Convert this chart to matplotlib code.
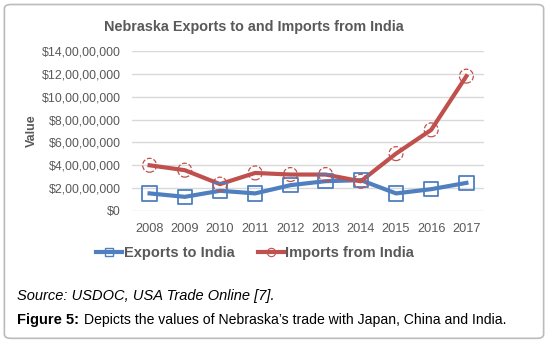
import matplotlib.pyplot as plt
from matplotlib.lines import Line2D
from matplotlib.patches import FancyBboxPatch
from matplotlib.ticker import FuncFormatter

plt.rcParams['font.family'] = ['Liberation Sans', 'DejaVu Sans']

years = ['2008', '2009', '2010', '2011', '2012', '2013', '2014', '2015', '2016', '2017']
# values in millions of dollars
exports = [15.4, 12.4, 17.7, 15.4, 22.6, 26.1, 27.0, 15.4, 19.1, 24.6]
imports = [40.0, 35.7, 23.5, 33.3, 31.9, 31.9, 26.0, 50.2, 71.0, 118.0]

blue = '#4F7FBF'
red = '#C0504D'
grey = '#595959'


def inr_fmt(v, pos):
    # Indian digit grouping: $14,00,00,000
    n = int(round(v * 1e6))
    if n == 0:
        return '$0'
    s = str(n)
    last3 = s[-3:]
    rest = s[:-3]
    parts = []
    while len(rest) > 2:
        parts.insert(0, rest[-2:])
        rest = rest[:-2]
    if rest:
        parts.insert(0, rest)
    return '$' + ','.join(parts + [last3])


fig = plt.figure(figsize=(5.48, 3.47), dpi=100)
fig.patches.append(FancyBboxPatch((0.008, 0.025), 0.984, 0.962,
                                  boxstyle='round,pad=0,rounding_size=0.012',
                                  transform=fig.transFigure, fc='white',
                                  ec='#BBBBBB', lw=1.2, zorder=-1))

ax = fig.add_axes([132 / 548, 1 - 211 / 347, 352 / 548, 160 / 347])
x = range(len(years))
ax.plot(x, exports, color=blue, lw=3, zorder=3)
ax.plot(x, imports, color=red, lw=3, zorder=3)
ax.scatter(x, exports, marker='s', s=110, facecolors='none', edgecolors=blue,
           linewidths=1.3, zorder=4)
ax.scatter(x, imports, marker='o', s=100, facecolors='none', edgecolors=red,
           linewidths=0.9, linestyles='--', zorder=4)

ax.set_xlim(-0.5, len(years) - 0.5)
ax.set_ylim(0, 140)
ax.set_yticks(range(0, 141, 20))
ax.yaxis.set_major_formatter(FuncFormatter(inr_fmt))
ax.set_xticks(list(x))
ax.set_xticklabels(years)
ax.grid(axis='y', color='#D9D9D9', lw=1)
ax.set_axisbelow(True)
for sp in ax.spines.values():
    sp.set_visible(False)
ax.tick_params(axis='y', length=0, labelsize=8.9, labelcolor=grey, pad=8)
ax.tick_params(axis='x', length=0, labelsize=9.2, labelcolor=grey, pad=9)
ax.set_ylabel('Value', fontsize=9, fontweight='bold', color=grey, labelpad=3)

fig.text(254 / 548, 1 - 27 / 347, 'Nebraska Exports to and Imports from India',
         ha='center', va='center', fontsize=10.4, fontweight='bold', color=grey)

handles = [
    Line2D([], [], color=blue, lw=3, marker='s', ms=6, mfc='none', mec=blue),
    Line2D([], [], color=red, lw=3, marker='o', ms=6, mfc='none', mec=red, mew=0.8),
]
leg = fig.legend(handles, ['Exports to India', 'Imports from India'],
                 loc='center', bbox_to_anchor=(255 / 548, 1 - 253 / 347), ncol=2,
                 frameon=False, handlelength=1.8, handletextpad=0.1,
                 columnspacing=1.6, prop={'weight': 'bold', 'size': 10.5})
for t in leg.get_texts():
    t.set_color(grey)

fig.text(17 / 548, 1 - 296 / 347, 'Source: USDOC, USA Trade Online [7].',
         ha='left', va='center', fontsize=10.5, style='italic', color='black')
fig.text(17 / 548, 1 - 320 / 347, 'Figure 5:', ha='left', va='center',
         fontsize=10.5, fontweight='bold', color='black')
fig.text(84 / 548, 1 - 320 / 347,
         'Depicts the values of Nebraska\u2019s trade with Japan, China and India.',
         ha='left', va='center', fontsize=10.1, color='black')

fig.savefig('out.png', dpi=100)
